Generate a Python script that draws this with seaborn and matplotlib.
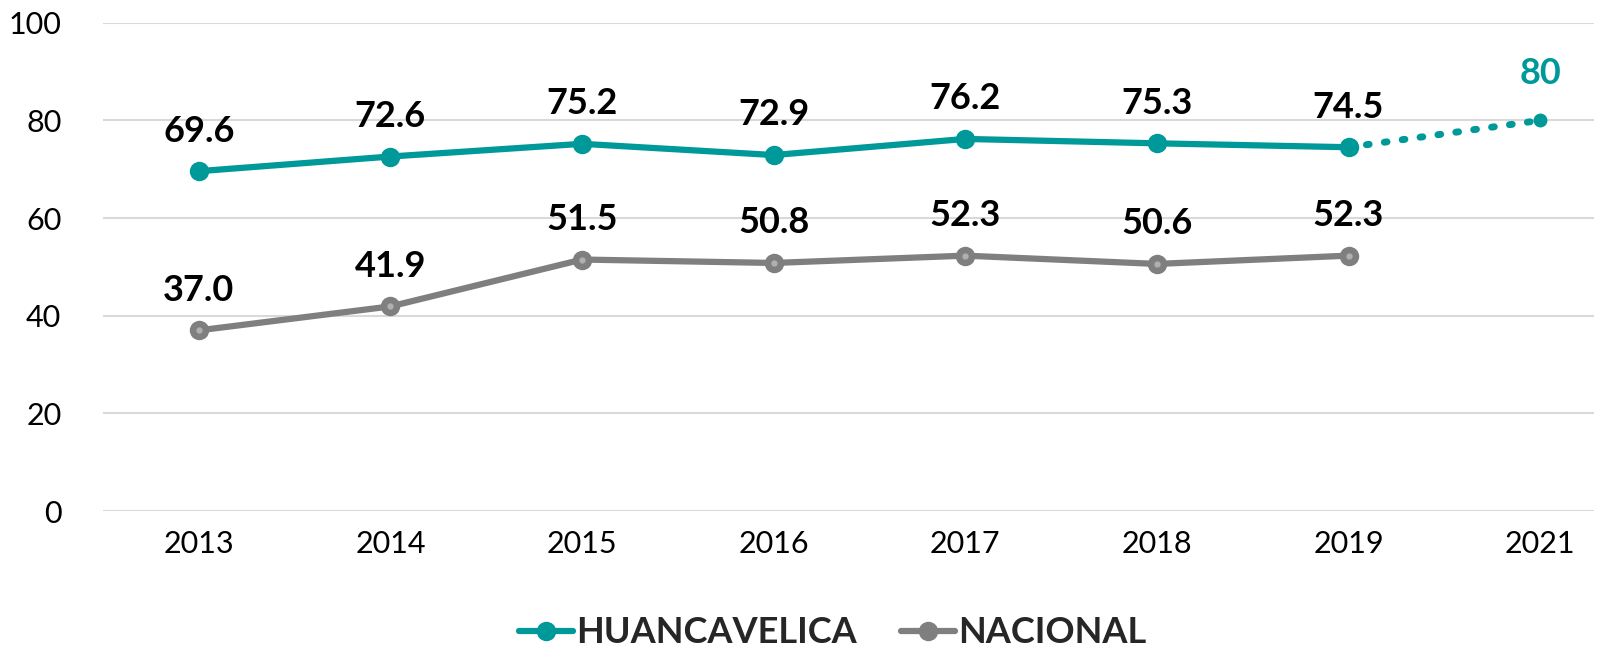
import matplotlib
matplotlib.use("Agg")
import matplotlib.pyplot as plt
import seaborn as sns
import pandas as pd

# data
years = ["2013", "2014", "2015", "2016", "2017", "2018", "2019"]
huancavelica = [69.6, 72.6, 75.2, 72.9, 76.2, 75.3, 74.5]
nacional = [37.0, 41.9, 51.5, 50.8, 52.3, 50.6, 52.3]
goal_years = ["2019", "2021"]
goal_values = [74.5, 80]
goal_label = "80"

TEAL = "#009999"
GRAY = "#7f7f7f"

sns.set_theme(style="white")
plt.rcParams["font.family"] = ["Lato", "DejaVu Sans"]

fig = plt.figure(figsize=(16.23, 6.49), dpi=100)
ax = fig.add_axes([0.0635, 0.2126, 0.9185, 0.7524])

df = pd.DataFrame({
    "year": years * 2,
    "value": huancavelica + nacional,
    "serie": ["HUANCAVELICA"] * len(years) + ["NACIONAL"] * len(years),
})

sns.lineplot(data=df, x="year", y="value", hue="serie",
             palette={"HUANCAVELICA": TEAL, "NACIONAL": GRAY},
             linewidth=4.5, marker="o", markersize=14, markeredgewidth=0,
             legend=False, ax=ax, sort=False)

# small light centre dot on the national markers
ax.plot(years, nacional, linestyle="none", marker="o", markersize=3.5,
        color="#b0b0b0", zorder=5)

# dotted projection to the 2021 goal
ax.plot(goal_years, goal_values, linestyle=(0, (0.4, 2.2)), linewidth=5,
        color=TEAL, dash_capstyle="round", zorder=3)
ax.plot(goal_years[1:], goal_values[1:], linestyle="none", marker="o",
        markersize=9, color=TEAL, zorder=4)

for x, v in zip(years, huancavelica):
    ax.annotate(f"{v:.1f}", (x, v), xytext=(0, 17), textcoords="offset points",
                ha="center", va="bottom", fontsize=26, fontweight="bold", color="black")
for x, v in zip(years, nacional):
    ax.annotate(f"{v:.1f}", (x, v), xytext=(0, 17), textcoords="offset points",
                ha="center", va="bottom", fontsize=26, fontweight="bold", color="black")
ax.annotate(goal_label, (goal_years[1], goal_values[1]), xytext=(0, 22),
            textcoords="offset points", ha="center", va="bottom",
            fontsize=26, fontweight="bold", color=TEAL)

ax.set_ylim(0, 100)
ax.set_xlim(-0.5, 7.28)
ax.set_yticks(range(0, 101, 20))
ax.yaxis.grid(True, color="#d9d9d9", linewidth=1.5)
ax.set_axisbelow(True)
for s in ax.spines.values():
    s.set_visible(False)
ax.tick_params(axis="both", length=0, labelsize=22, colors="black", pad=14)
ax.tick_params(axis="y", pad=30)
ax.set_xlabel("")
ax.set_ylabel("")

handles = [
    plt.Line2D([], [], color=TEAL, linewidth=4.5, marker="o", markersize=14,
               markeredgewidth=0, label="HUANCAVELICA"),
    plt.Line2D([], [], color=GRAY, linewidth=4.5, marker="o", markersize=14,
               markeredgewidth=0, label="NACIONAL"),
]
fig.legend(handles=handles, loc="center", bbox_to_anchor=(0.513, 0.025), ncol=2,
           frameon=False, prop={"size": 26, "weight": "bold"},
           handlelength=1.5, handletextpad=0.1, columnspacing=1.2)

fig.savefig("out.png", dpi=100)
